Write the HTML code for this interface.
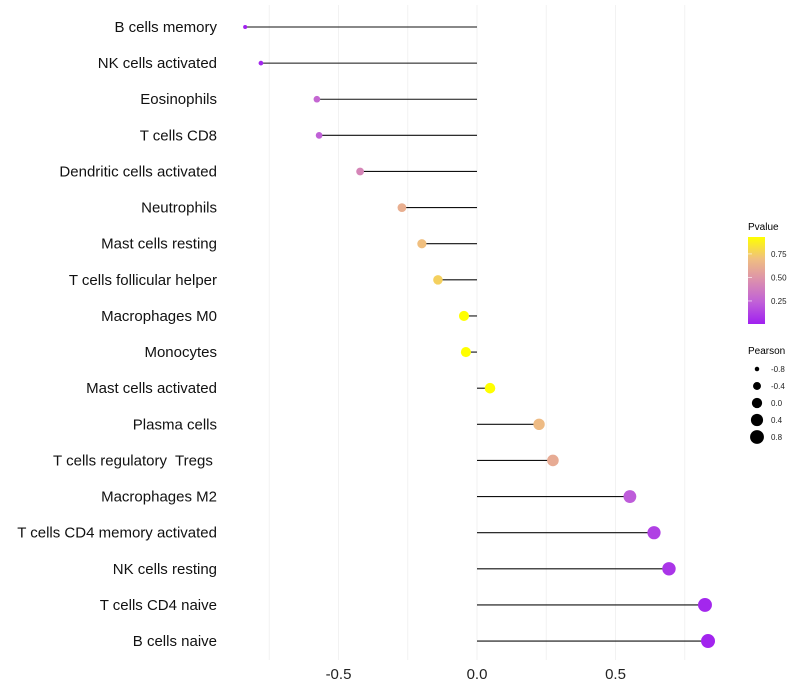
<!DOCTYPE html>
<html><head><meta charset="utf-8"><style>
body{margin:0;background:#fff;}
svg{display:block;font-family:"Liberation Sans",sans-serif;}
text{white-space:pre;}
</style></head><body>
<svg id="chart" width="800" height="700" viewBox="0 0 800 700">
<defs><linearGradient id="pg" x1="0" y1="1" x2="0" y2="0">
<stop offset="0" stop-color="#a020f0"/><stop offset="0.25" stop-color="#c060d8"/><stop offset="0.5" stop-color="#db8fae"/><stop offset="0.75" stop-color="#f0bf80"/><stop offset="1" stop-color="#ffff00"/></linearGradient></defs>
<g id="grid"></g>
<g id="marks"></g>
<g id="ylabels"></g>
<g id="xticks"></g>
<g>
<text x="748" y="230" font-size="10">Pvalue</text>
<rect x="748" y="237" width="17" height="87" fill="url(#pg)"/>
<g id="cbticks"></g>
</g>
<g id="sizeleg">
<text x="748" y="354" font-size="10">Pearson</text>
</g>
</svg>
<script>
const categories=["B cells memory","NK cells activated","Eosinophils","T cells CD8","Dendritic cells activated","Neutrophils","Mast cells resting","T cells follicular helper","Macrophages M0","Monocytes","Mast cells activated","Plasma cells","T cells regulatory  Tregs ","Macrophages M2","T cells CD4 memory activated","NK cells resting","T cells CD4 naive","B cells naive"];
const pearson=[-0.837,-0.78,-0.578,-0.57,-0.422,-0.271,-0.199,-0.141,-0.047,-0.040,0.047,0.224,0.274,0.552,0.639,0.693,0.823,0.834];
const pvalues=[0.01,0.03,0.27,0.24,0.42,0.62,0.7,0.76,0.95,0.95,0.95,0.68,0.6,0.22,0.12,0.08,0.03,0.02];
const xTicks=[-0.5,0,0.5];
const xTickLabels=["-0.5","0.0","0.5"];
const minorTicks=[-0.75,-0.25,0.25,0.75];
const cbTicks=[0.25,0.5,0.75];
const cbTickLabels=["0.25","0.50","0.75"];
const sizeLegendVals=[-0.8,-0.4,0.0,0.4,0.8];
const sizeLegendLabels=["-0.8","-0.4","0.0","0.4","0.8"];

const NS="http://www.w3.org/2000/svg";
const X=v=>477+v*277;
const Y=i=>27+i*36.12;
const R=v=>Math.sqrt(Math.max(1,26.5+26.8*v));
const pMin=0.005,pMax=0.93;
const stops=[[160,32,240],[192,96,216],[219,143,174],[240,191,128],[255,255,0]];
function col(p){let t=Math.min(1,Math.max(0,(p-pMin)/(pMax-pMin)))*4;let i=Math.min(3,Math.floor(t)),f=t-i;
const c=stops[i].map((a,k)=>Math.round(a+(stops[i+1][k]-a)*f));return `rgb(${c})`;}
function mk(tag,at,parent){const e=document.createElementNS(NS,tag);for(const k in at)e.setAttribute(k,at[k]);parent.appendChild(e);return e;}
const grid=document.getElementById('grid'),marks=document.getElementById('marks'),yl=document.getElementById('ylabels'),xt=document.getElementById('xticks');
minorTicks.concat(xTicks).forEach(v=>{const l=mk('line',{x1:X(v),x2:X(v),y1:5,y2:660,stroke:'#f2f2f2','stroke-width':1},grid);

});
xTicks.forEach((v,i)=>{const t=mk('text',{x:X(v),y:679,'font-size':15,'text-anchor':'middle',fill:'#222'},xt);t.textContent=xTickLabels[i];

});
categories.forEach((c,i)=>{
const y=Y(i);
const l=mk('line',{x1:X(0),x2:X(pearson[i]),y1:y,y2:y,stroke:'#111','stroke-width':1.1},marks);


const p=mk('circle',{cx:X(pearson[i]),cy:y,r:R(pearson[i]),fill:col(pvalues[i])},marks);


const t=mk('text',{x:217,y:y+5,'font-size':15,'text-anchor':'end',fill:'#111'},yl);t.textContent=c;


});
const cb=document.getElementById('cbticks');
cbTicks.forEach((v,i)=>{const y=324-(v-pMin)/(pMax-pMin)*87;
const l=mk('line',{x1:748,x2:752,y1:y,y2:y,stroke:'#fff','stroke-width':0.6},cb);


const t=mk('text',{x:771,y:y+3,'font-size':8,fill:'#222'},cb);t.textContent=cbTickLabels[i];

});
const sl=document.getElementById('sizeleg');
sizeLegendVals.forEach((v,i)=>{const y=369+i*17;
const c=mk('circle',{cx:757,cy:y,r:R(v),fill:'#000'},sl);


const t=mk('text',{x:771,y:y+3,'font-size':8,fill:'#222'},sl);t.textContent=sizeLegendLabels[i];

});
</script>
</body></html>
